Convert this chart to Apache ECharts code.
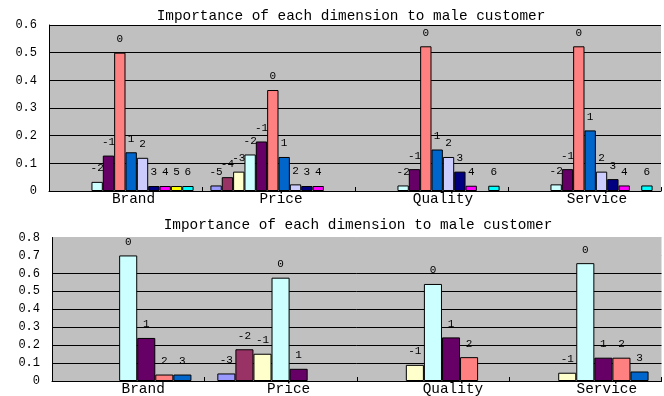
<!DOCTYPE html>
<html><head><meta charset="utf-8">
<script src="https://cdn.jsdelivr.net/npm/echarts@6/dist/echarts.min.js"></script>
<style>html,body{margin:0;padding:0;background:#fff}#c{width:664px;height:396px}</style>
</head><body><div id="c"></div>
<script>
// ---- data ----
const categories = ['Brand', 'Price', 'Quality', 'Service'];
const titleText = 'Importance of each dimension to male customer';

const topNames = ['-5', '-4', '-3', '-2', '-1', '0', '1', '2', '3', '4', '5', '6'];
const topM5 = [null, 0.02, null, null];
const topM4 = [null, 0.05, null, null];
const topM3 = [null, 0.07, null, null];
const topM2 = [0.033, 0.132, 0.02, 0.024];
const topM1 = [0.128, 0.179, 0.079, 0.079];
const top0 = [0.5, 0.365, 0.523, 0.523];
const topP1 = [0.14, 0.123, 0.15, 0.219];
const topP2 = [0.12, 0.024, 0.123, 0.07];
const topP3 = [0.018, 0.018, 0.07, 0.043];
const topP4 = [0.018, 0.018, 0.019, 0.02];
const topP5 = [0.018, null, null, null];
const topP6 = [0.018, null, 0.019, 0.02];
const topValues = [topM5, topM4, topM3, topM2, topM1, top0, topP1, topP2, topP3, topP4, topP5, topP6];

const botNames = ['-3', '-2', '-1', '0', '1', '2', '3'];
const botM3 = [null, 0.042, null, null];
const botM2 = [null, 0.177, null, null];
const botM1 = [null, 0.152, 0.09, 0.046];
const bot0 = [0.70, 0.576, 0.541, 0.657];
const botP1 = [0.24, 0.068, 0.243, 0.13];
const botP2 = [0.036, null, 0.133, 0.13];
const botP3 = [0.036, null, null, 0.053];
const botValues = [botM3, botM2, botM1, bot0, botP1, botP2, botP3];

const topTicks = ['0', '0.1', '0.2', '0.3', '0.4', '0.5', '0.6'];
const botTicks = ['0', '0.1', '0.2', '0.3', '0.4', '0.5', '0.6', '0.7', '0.8'];

// ---- styling ----
const palette = ['#9999FF', '#993366', '#FFFFCC', '#CCFFFF', '#660066', '#FF8080',
                 '#0066CC', '#CCCCFF', '#000080', '#FF00FF', '#FFFF00', '#00FFFF'];
const topLabelShift = [16, 5, 23, 25];
const botLabelShift = [30, 16, 40, 43];
const mono = '"Liberation Mono", "DejaVu Sans Mono", monospace';

function catData(shifts) {
  return categories.map((c, i) => ({ value: c, textStyle: { padding: [0, 0, 0, shifts[i]] } }));
}
function mkSeries(names, values, colorOffset, axisIdx, gap) {
  return names.map((n, i) => ({
    name: n, type: 'bar', xAxisIndex: axisIdx, yAxisIndex: axisIdx,
    barGap: '0%', barCategoryGap: gap,
    data: values[i].map(v => v === null ? '-' : v),
    itemStyle: { color: palette[colorOffset + i], borderColor: '#000', borderWidth: 1 },
    label: { show: true, position: 'top', distance: 8, formatter: () => n,
             fontFamily: mono, fontSize: 11, color: '#000' },
    animation: false
  }));
}

const chart = echarts.init(document.getElementById('c'), null, { renderer: 'canvas' });
chart.setOption({
  animation: false,
  backgroundColor: '#fff',
  graphic: [
    { type: 'text', x: 351, y: 9, style: { text: titleText, font: '14.4px ' + mono, fill: '#000', textAlign: 'center' } },
    { type: 'text', x: 358, y: 218, style: { text: titleText, font: '14.4px ' + mono, fill: '#000', textAlign: 'center' } }
  ],
  grid: [
    { left: 49, right: 3, top: 25, bottom: 205, show: true, backgroundColor: '#C0C0C0', borderWidth: 0 },
    { left: 52, right: 2.5, top: 237.5, bottom: 13.7, show: true, backgroundColor: '#C0C0C0', borderWidth: 0 }
  ],
  xAxis: [
    { type: 'category', gridIndex: 0, data: catData(topLabelShift),
      axisLine: { lineStyle: { color: '#000', width: 1 } },
      axisTick: { show: true, inside: true, length: 4, lineStyle: { color: '#000' } },
      axisLabel: { margin: 1, fontFamily: mono, fontSize: 14.4, color: '#000' } },
    { type: 'category', gridIndex: 1, data: catData(botLabelShift),
      axisLine: { lineStyle: { color: '#000', width: 1 } },
      axisTick: { show: true, inside: true, length: 4, lineStyle: { color: '#000' } },
      axisLabel: { margin: 1, fontFamily: mono, fontSize: 14.4, color: '#000' } }
  ],
  yAxis: [
    { type: 'value', gridIndex: 0, min: 0, max: 0.6, interval: 0.1,
      axisLine: { show: true, lineStyle: { color: '#000' } }, axisTick: { show: false },
      splitLine: { show: true, lineStyle: { color: '#000', width: 1 } },
      axisLabel: { margin: 12, fontFamily: mono, fontSize: 12, color: '#000',
                   formatter: v => topTicks[Math.round(v * 10)] } },
    { type: 'value', gridIndex: 1, min: 0, max: 0.8, interval: 0.1,
      axisLine: { show: true, lineStyle: { color: '#000' } }, axisTick: { show: false },
      splitLine: { show: true, lineStyle: { color: ['#000', '#000', '#000', '#000', '#000', '#000', '#000', '#C0C0C0', '#C0C0C0'], width: 1 } },
      axisLabel: { margin: 12, fontFamily: mono, fontSize: 12, color: '#000',
                   formatter: v => botTicks[Math.round(v * 10)] } }
  ],
  series: [].concat(
    mkSeries(topNames, topValues, 0, 0, '11%'),
    mkSeries(botNames, botValues, 0, 1, '17%')
  )
});
</script></body></html>
